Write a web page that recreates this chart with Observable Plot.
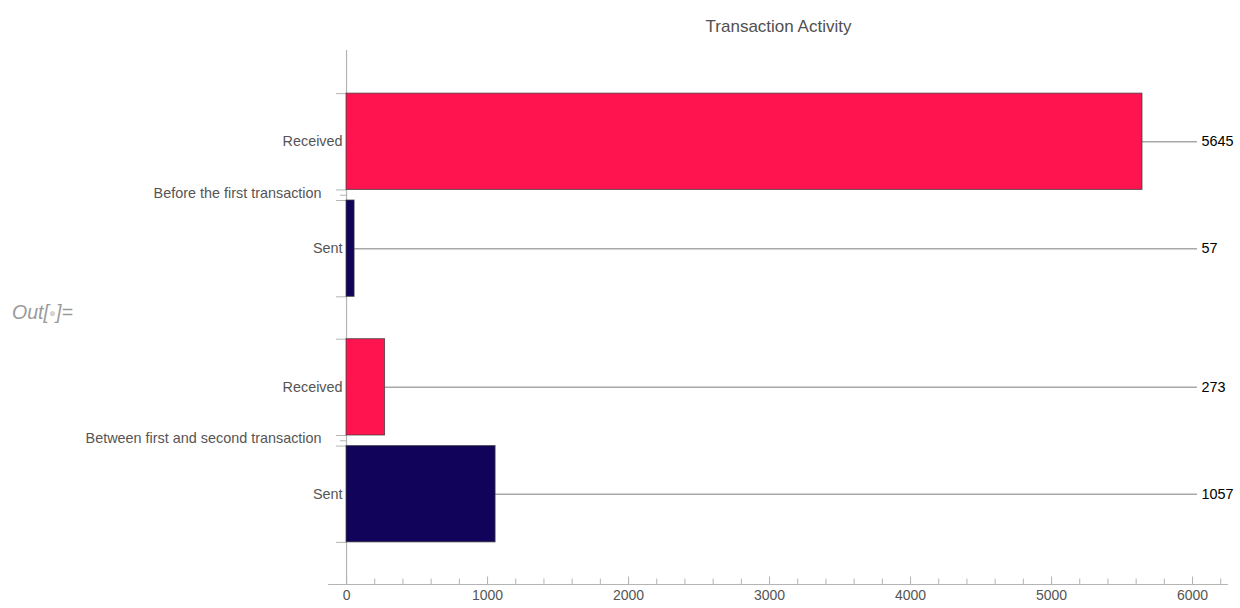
<!DOCTYPE html>
<html><head><meta charset="utf-8">
<script src="https://cdn.jsdelivr.net/npm/d3@7"></script>
<script src="https://cdn.jsdelivr.net/npm/@observablehq/plot@0.6"></script>
<style>
body{margin:0;background:#fff;font-family:"Liberation Sans",Arial,sans-serif;}
#wrap{position:relative;width:1240px;height:608px;}
#out{position:absolute;left:12px;top:300px;font-style:italic;color:#9a9a9a;font-size:19.5px;line-height:24px;}
#out .dot{color:#d4d4d4;font-style:normal;font-size:12px;vertical-align:2px;}
</style></head><body>
<div id="wrap"><div id="out">Out[<span class="dot">●</span>]=</div></div>
<script>
// ---- data ----
const title = "Transaction Activity";
const groups = ["Before the first transaction", "Between first and second transaction"];
const types = ["Received", "Sent"];
const received = [5645, 273];
const sent = [57, 1057];
const colors = ["#FF1450", "#12035A"];
const majorTicks = [0, 1000, 2000, 3000, 4000, 5000, 6000];
const minorTicks = d3.range(0, 6201, 200);

// ---- layout (in band units) ----
const GAP_IN = 0.11, GAP_OUT = 0.44, PAD_TOP = 0.448, PAD_BOTTOM = 0.4375;
const GROUP = 2 + GAP_IN + GAP_OUT;
const rows = [];
groups.forEach((g, gi) => types.forEach((t, ti) => {
  const start = gi * GROUP + ti * (1 + GAP_IN);
  rows.push({group: g, type: t, value: (ti === 0 ? received : sent)[gi], y1: start, y2: start + 1, yc: start + 0.5});
}));
const groupCenters = groups.map((g, gi) => ({group: g, y: gi * GROUP + 1 + GAP_IN / 2}));
const edges = rows.flatMap(r => [r.y1, r.y2]);
const yMin = -PAD_TOP;
const yMax = (groups.length - 1) * GROUP + 2 + GAP_IN + PAD_BOTTOM;
const XMIN = -128, XMAX = 6255;
const axisColor = "#b4b4b4";

const plot = Plot.plot({
  width: 1240, height: 608,
  marginTop: 50, marginBottom: 24, marginLeft: 328, marginRight: 12,
  style: {fontFamily: "'Liberation Sans', Arial, sans-serif", fontSize: "14.4px", background: "white", overflow: "visible"},
  x: {domain: [XMIN, XMAX], axis: null},
  y: {domain: [yMin, yMax], reverse: true, axis: null},
  color: {domain: types, range: colors},
  marks: [
    // axes lines
    Plot.ruleX([0], {stroke: axisColor, strokeWidth: 1.2}),
    Plot.ruleY([yMax], {stroke: axisColor, strokeWidth: 1.2}),
    // x ticks (pointing up)
    Plot.ruleX(minorTicks, {x: d => d, y1: yMax, y2: yMax, insetBottom: 5.5, stroke: axisColor}),
    Plot.ruleX(majorTicks, {x: d => d, y1: yMax, y2: yMax, insetBottom: 7.5, stroke: axisColor}),
    Plot.text(majorTicks, {x: d => d, y: yMax, dy: 11, text: d => String(d), fill: "#555", fontSize: 14}),
    // y ticks at bar edges and group centres
    Plot.ruleY(edges, {y: d => d, x1: 0, x2: 0, insetLeft: -10, stroke: axisColor}),
    Plot.ruleY(groupCenters, {y: "y", x1: 0, x2: 0, insetLeft: -6, stroke: axisColor}),
    // leader lines to value labels
    Plot.ruleY(rows, {y: "yc", x1: "value", x2: XMAX, insetRight: 31, stroke: "#a8a8a8", strokeWidth: 1.5}),
    // bars
    Plot.rect(rows, {x1: () => 0, x2: "value", y1: "y1", y2: "y2", fill: "type", stroke: "#3a3a3a", strokeOpacity: 0.75, strokeWidth: 1}),
    // labels
    Plot.text(rows, {x: () => 0, y: "yc", text: "type", textAnchor: "end", dx: -4, fill: "#555"}),
    Plot.text(groupCenters, {x: () => 0, y: "y", text: "group", textAnchor: "end", dx: -25, dy: -2, fill: "#555"}),
    Plot.text(rows, {x: () => XMAX, y: "yc", text: d => String(d.value), textAnchor: "start", dx: -27, fill: "#000"}),
    Plot.text([title], {frameAnchor: "top", lineAnchor: "middle", dy: -24, text: d => d, fontSize: 17, fill: "#505050"})
  ]
});
document.getElementById("wrap").prepend(plot);
</script>
</body></html>
